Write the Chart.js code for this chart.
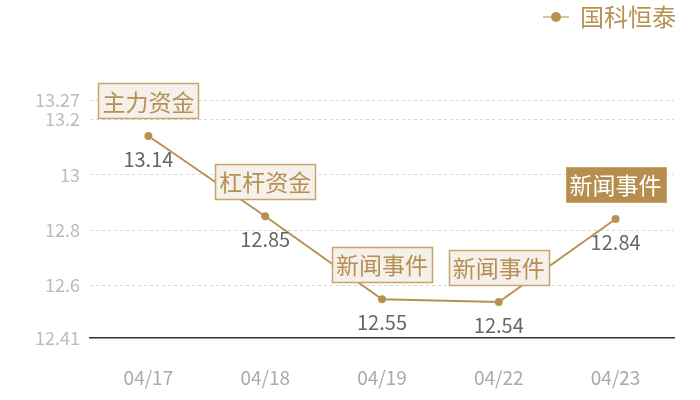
<!DOCTYPE html>
<html>
<head>
<meta charset="utf-8">
<script src="https://cdn.jsdelivr.net/npm/chart.js@4/dist/chart.umd.min.js"></script>
<style>
html,body{margin:0;padding:0;background:#fff;}
#wrap{width:700px;height:400px;position:relative;}
</style>
</head>
<body>
<div id="wrap"><canvas id="c"></canvas></div>
<script>
const categories = ['04/17', '04/18', '04/19', '04/22', '04/23'];
const seriesName = '国科恒泰';
const prices = [13.14, 12.85, 12.55, 12.54, 12.84];
const eventLabels = ['主力资金', '杠杆资金', '新闻事件', '新闻事件', '新闻事件'];
const eventHighlight = [false, false, false, false, true];
const yTicks = [12.41, 12.6, 12.8, 13, 13.2, 13.27];
const yMin = 12.41, yMax = 13.27;

const GOLD = '#b89150';
const FONT = '"Noto Sans CJK SC", "Noto Sans", sans-serif';

// legend marker: line with circle
const marker = document.createElement('canvas');
marker.width = 26; marker.height = 12;
(function(){
  const g = marker.getContext('2d');
  g.strokeStyle = '#d9c39d'; g.lineWidth = 2;
  g.beginPath(); g.moveTo(0, 6); g.lineTo(26, 6); g.stroke();
  g.fillStyle = GOLD;
  g.beginPath(); g.arc(13, 6, 5, 0, Math.PI * 2); g.fill();
})();

const labelPlugin = {
  id: 'labels',
  afterDatasetsDraw(chart) {
    const ctx = chart.ctx;
    const meta = chart.getDatasetMeta(0);
    ctx.save();
    meta.data.forEach((pt, i) => {
      const x = pt.x, y = pt.y;
      ctx.font = '20px ' + FONT;
      ctx.fillStyle = '#666';
      ctx.textAlign = 'center';
      ctx.textBaseline = 'middle';
      ctx.fillText(String(prices[i]), x, y + 23);
      ctx.font = '23px ' + FONT;
      const tw = ctx.measureText(eventLabels[i]).width;
      const w = tw + 8, h = 35;
      const cx = x, cy = y - 35;
      const bx = Math.round(cx - w / 2) + 0.5, by = Math.round(cy - h / 2) + 0.5;
      if (eventHighlight[i]) {
        ctx.fillStyle = '#b58d4e';
        ctx.fillRect(bx, by, w, h);
        ctx.strokeStyle = '#c9a56c';
        ctx.lineWidth = 1;
        ctx.strokeRect(bx, by, w, h);
        ctx.fillStyle = '#ffffff';
      } else {
        ctx.fillStyle = '#f5f0e9';
        ctx.fillRect(bx, by, w, h);
        ctx.strokeStyle = '#c8a56e';
        ctx.lineWidth = 1.5;
        ctx.strokeRect(bx, by, w, h);
        ctx.fillStyle = '#b68f55';
      }
      ctx.fillText(eventLabels[i], cx, cy + 1);
    });
    ctx.restore();
  }
};

const legendGap = {
  id: 'legendGap',
  afterInit(chart) {
    const lg = chart.legend;
    if (!lg) return;
    const fit = lg.fit;
    lg.fit = function () { fit.call(this); this.height += 61; };
  },
  afterLayout(chart) {
    const lg = chart.legend;
    if (!lg) return;
    lg.left += 7; lg.right += 7;
  }
};

new Chart(document.getElementById('c'), {
  type: 'line',
  data: {
    labels: categories,
    datasets: [{
      label: seriesName,
      data: prices,
      borderColor: GOLD,
      backgroundColor: GOLD,
      borderWidth: 2,
      pointRadius: 4,
      pointHoverRadius: 4,
      pointBackgroundColor: GOLD,
      pointBorderWidth: 0,
      tension: 0
    }]
  },
  options: {
    responsive: true,
    maintainAspectRatio: false,
    animation: false,
    layout: { padding: { left: 10, right: 26, top: 0, bottom: 0 } },
    plugins: {
      tooltip: { enabled: false },
      legend: {
        position: 'top',
        align: 'end',
        labels: {
          usePointStyle: true,
          pointStyle: marker,
          color: GOLD,
          font: { family: FONT, size: 24 },
          padding: 5,
          boxHeight: 12
        }
      }
    },
    scales: {
      x: {
        offset: true,
        grid: { display: false },
        border: { display: true, color: '#333', width: 1.5 },
        ticks: { color: '#aaa', font: { family: FONT, size: 19 }, padding: 20 },
        afterFit(s) { s.height = 62; }
      },
      y: {
        min: yMin, max: yMax,
        border: { display: false },
        grid: {
          color: ctx => (ctx.tick && ctx.tick.value === yMin) ? 'rgba(0,0,0,0)' : '#d4d4d4',
          drawTicks: false
        },
        afterBuildTicks(s) { s.ticks = yTicks.map(v => ({ value: v })); },
        ticks: {
          autoSkip: false,
          color: '#bbb',
          font: { family: FONT, size: 18 },
          padding: 10,
          callback: v => String(+Number(v).toFixed(2))
        },
        afterFit(s) { s.width = 80; }
      }
    }
  },
  plugins: [labelPlugin, legendGap, {
    id: 'dash',
    beforeDraw(chart) {
      chart.options.scales.y.border.dash = [3, 3];
    }
  }]
});
</script>
</body>
</html>
